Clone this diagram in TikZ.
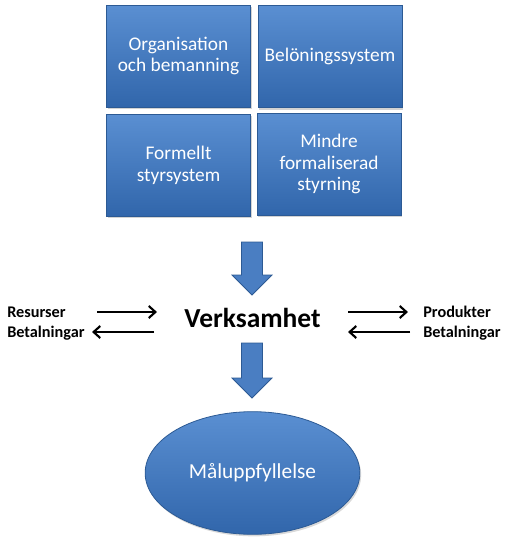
\documentclass[tikz,border=0pt]{standalone}
\usepackage{fontspec}
\setmainfont{Carlito}
\usetikzlibrary{arrows.meta,shadows,shapes.geometric}
\definecolor{bluetop}{HTML}{5A8FD2}
\definecolor{bluebot}{HTML}{3166AB}
\definecolor{blueedge}{HTML}{2C5A94}
\definecolor{arrowblue}{HTML}{4A7EC2}
\tikzset{
  boxstyle/.style={draw=blueedge, line width=0.6pt, top color=bluetop, bottom color=bluebot,
    minimum width=108pt, minimum height=76.5pt, inner sep=0pt,
    align=center, text=white, font=\fontsize{14.5}{16.3}\selectfont,
    drop shadow={opacity=0.35, shadow xshift=1pt, shadow yshift=-1.5pt}},
  blockarrow/.style={fill=arrowblue, draw=blueedge, line width=0.6pt},
  flowlabel/.style={font=\bfseries\fontsize{12.2}{14}\selectfont, inner sep=0pt},
  thinarrow/.style={line width=1.6pt, -{Straight Barb[length=5pt,width=9pt,line width=1.6pt]}},
}
\begin{document}
\begin{tikzpicture}[x=0.75pt,y=-0.75pt]
\useasboundingbox (0,0) rectangle (508,543);
% boxes
\node[boxstyle] (b1) at (178.5,56) {Organisation\\och bemanning};
\node[boxstyle] (b2) at (330,56.5) {Belöningssystem};
\node[boxstyle] (b3) at (178.5,165) {Formellt\\styrsystem};
\node[boxstyle] (b4) at (329,164) {Mindre\\formaliserad\\styrning};
% block arrows
\draw[blockarrow] (241.5,242) -- (262.5,242) -- (262.5,275) -- (272,275) -- (252,295) -- (232,275) -- (241.5,275) -- cycle;
\draw[blockarrow] (241.5,343) -- (262.5,343) -- (262.5,378) -- (272,378) -- (252,398) -- (232,378) -- (241.5,378) -- cycle;
% centre
\node[font=\bfseries\fontsize{20.6}{24}\selectfont, inner sep=0pt] (verk) at (252.5,318) {Verksamhet};
% labels
\node[flowlabel, anchor=west] (res) at (7,312) {Resurser};
\node[flowlabel, anchor=west] (betl) at (7,333) {Betalningar};
\node[flowlabel, anchor=west] (prod) at (423,312) {Produkter};
\node[flowlabel, anchor=west] (betr) at (423,333) {Betalningar};
\coordinate (l1s) at (97,312);
\coordinate (l1e) at (157,312);
\coordinate (l2s) at (154,332);
\coordinate (l2e) at (92,332);
\coordinate (r1s) at (348,312);
\coordinate (r1e) at (408,312);
\coordinate (r2s) at (410,332);
\coordinate (r2e) at (348,332);
\draw[thinarrow] (l1s) -- (l1e);
\draw[thinarrow] (l2s) -- (l2e);
\draw[thinarrow] (r1s) -- (r1e);
\draw[thinarrow] (r2s) -- (r2e);
% ellipse
\node[ellipse, draw=blueedge, line width=0.6pt, top color=bluetop, bottom color=bluebot,
  minimum width=161pt, minimum height=92pt, inner sep=0pt, text=white,
  font=\fontsize{16}{19}\selectfont,
  drop shadow={opacity=0.3, shadow xshift=1pt, shadow yshift=-1.5pt}] (mal) at (252.5,473) {Måluppfyllelse};
\end{tikzpicture}
\end{document}
